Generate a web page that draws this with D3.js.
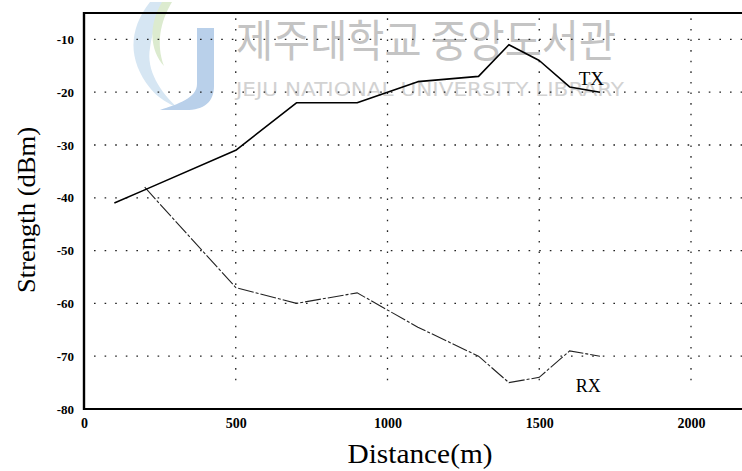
<!DOCTYPE html>
<html>
<head>
<meta charset="utf-8">
<script src="https://cdn.jsdelivr.net/npm/d3@7"></script>
<style>
  html, body { margin: 0; padding: 0; background: #fff; }
  svg { display: block; }
</style>
</head>
<body>
<div id="chart"></div>
<script>
// distance (m) and signal strength (dBm)
const txDistance = [100, 200, 500, 700, 900, 1100, 1300, 1400, 1500, 1600, 1700]
const txStrength = [-41, -38.5, -31, -22, -22, -18, -17, -11, -14, -19, -20]
const rxDistance = [200, 500, 700, 900, 1100, 1300, 1400, 1500, 1600, 1700]
const rxStrength = [-38, -57, -60, -58, -64.5, -70, -75, -74, -69, -70]
const xTicks = [0, 500, 1000, 1500, 2000]
const yTicks = [-10, -20, -30, -40, -50, -60, -70, -80]

const width = 742
const height = 471
const serif = '"Liberation Serif", "DejaVu Serif", serif'

const svg = d3.select('#chart').append('svg')
    .attr('width', width)
    .attr('height', height)

const x = d3.scaleLinear().domain([0, 2000]).range([84, 691])
const y = d3.scaleLinear().domain([-80, -5]).range([409, 13])

// watermark (library stamp)
const wm = svg.append('g').attr('class', 'watermark')
wm.append('path')
    .attr('d', 'M150,2 C128,30 128,60 150,88 C160,100 170,104 178,108 C160,92 146,70 150,48 C152,30 160,14 166,2 Z')
    .attr('fill', '#d6e6f3')
wm.append('path')
    .attr('d', 'M162,2 C148,26 150,50 164,66 C156,44 160,22 172,2 Z')
    .attr('fill', '#dcebcf')
wm.append('path')
    .attr('d', 'M197,28 L214,28 L214,86 C214,102 204,110 186,110 L160,110 C178,104 197,98 197,84 Z')
    .attr('fill', '#b9d0ea')
wm.append('text')
    .attr('x', 236).attr('y', 57)
    .attr('font-family', '"Noto Sans CJK KR", sans-serif')
    .attr('font-size', 44)
    .attr('textLength', 380).attr('lengthAdjust', 'spacingAndGlyphs')
    .attr('fill', '#c4c4c4')
    .text('제주대학교 중앙도서관')
wm.append('text')
    .attr('x', 236).attr('y', 96)
    .attr('font-family', '"DejaVu Sans", sans-serif')
    .attr('font-size', 19)
    .attr('textLength', 388).attr('lengthAdjust', 'spacingAndGlyphs')
    .attr('fill', '#d2d2d2')
    .text('JEJU NATIONAL UNIVERSITY LIBRARY')

// dotted grid
const grid = svg.append('g')
    .attr('stroke', '#222')
    .attr('stroke-width', 1.3)
    .attr('stroke-dasharray', '1.6,9')
grid.selectAll('line.h')
    .data(yTicks.filter(d => d > -80))
    .join('line')
    .attr('class', 'h')
    .attr('x1', x(0) + 10).attr('x2', width)
    .attr('y1', d => y(d)).attr('y2', d => y(d))
grid.selectAll('line.v')
    .data(xTicks.filter(d => d > 0))
    .join('line')
    .attr('class', 'v')
    .attr('x1', d => x(d)).attr('x2', d => x(d))
    .attr('y1', y(-6)).attr('y2', y(-76))

// axes (labels only, frame drawn below)
const yAxis = svg.append('g')
    .attr('transform', `translate(${x(0)},0)`)
    .call(d3.axisLeft(y).tickValues(yTicks).tickSize(0).tickPadding(10).tickFormat(d3.format('d')))
yAxis.select('.domain').remove()
yAxis.selectAll('text')
    .attr('font-family', serif)
    .attr('font-weight', 'bold')
    .attr('font-size', 13)
    .attr('fill', '#000')
    .text(d => String(d).replace('\u2212', '-'))

const xAxis = svg.append('g')
    .attr('transform', `translate(0,${y(-80)})`)
    .call(d3.axisBottom(x).tickValues(xTicks).tickSize(0).tickPadding(9).tickFormat(d3.format('d')))
xAxis.select('.domain').remove()
xAxis.selectAll('text')
    .attr('font-family', serif)
    .attr('font-weight', 'bold')
    .attr('font-size', 14)
    .attr('fill', '#000')

// frame
const frame = svg.append('g').attr('stroke', '#000').attr('fill', 'none')
frame.append('line')
    .attr('x1', x(0)).attr('x2', width)
    .attr('y1', y(-5)).attr('y2', y(-5))
    .attr('stroke-width', 1.8)
frame.append('line')
    .attr('x1', x(0)).attr('x2', width)
    .attr('y1', y(-80)).attr('y2', y(-80))
    .attr('stroke-width', 2)
frame.append('line')
    .attr('x1', x(0)).attr('x2', x(0))
    .attr('y1', y(-5) - 1).attr('y2', y(-80) + 1)
    .attr('stroke-width', 2.4)

// series
const line = d3.line()
    .x(d => x(d[0]))
    .y(d => y(d[1]))

svg.append('path')
    .datum(d3.zip(rxDistance, rxStrength))
    .attr('fill', 'none')
    .attr('stroke', '#222')
    .attr('stroke-width', 1.1)
    .attr('stroke-dasharray', '16,2,3,2')
    .attr('d', line)

svg.append('path')
    .datum(d3.zip(txDistance, txStrength))
    .attr('fill', 'none')
    .attr('stroke', '#000')
    .attr('stroke-width', 1.6)
    .attr('stroke-linejoin', 'round')
    .attr('d', line)

// series labels
svg.append('text')
    .attr('x', x(1630)).attr('y', y(-18.7))
    .attr('font-family', serif)
    .attr('font-size', 19)
    .text('TX')
svg.append('text')
    .attr('x', x(1620)).attr('y', y(-76.7))
    .attr('font-family', serif)
    .attr('font-size', 18)
    .text('RX')

// axis titles
svg.append('text')
    .attr('x', 420).attr('y', 463)
    .attr('text-anchor', 'middle')
    .attr('font-family', serif)
    .attr('font-size', 27)
    .attr('textLength', 145).attr('lengthAdjust', 'spacingAndGlyphs')
    .text('Distance(m)')

svg.append('text')
    .attr('transform', 'translate(35,210) rotate(-90)')
    .attr('text-anchor', 'middle')
    .attr('font-family', serif)
    .attr('font-size', 26)
    .attr('textLength', 166).attr('lengthAdjust', 'spacingAndGlyphs')
    .text('Strength (dBm)')
</script>
</body>
</html>
